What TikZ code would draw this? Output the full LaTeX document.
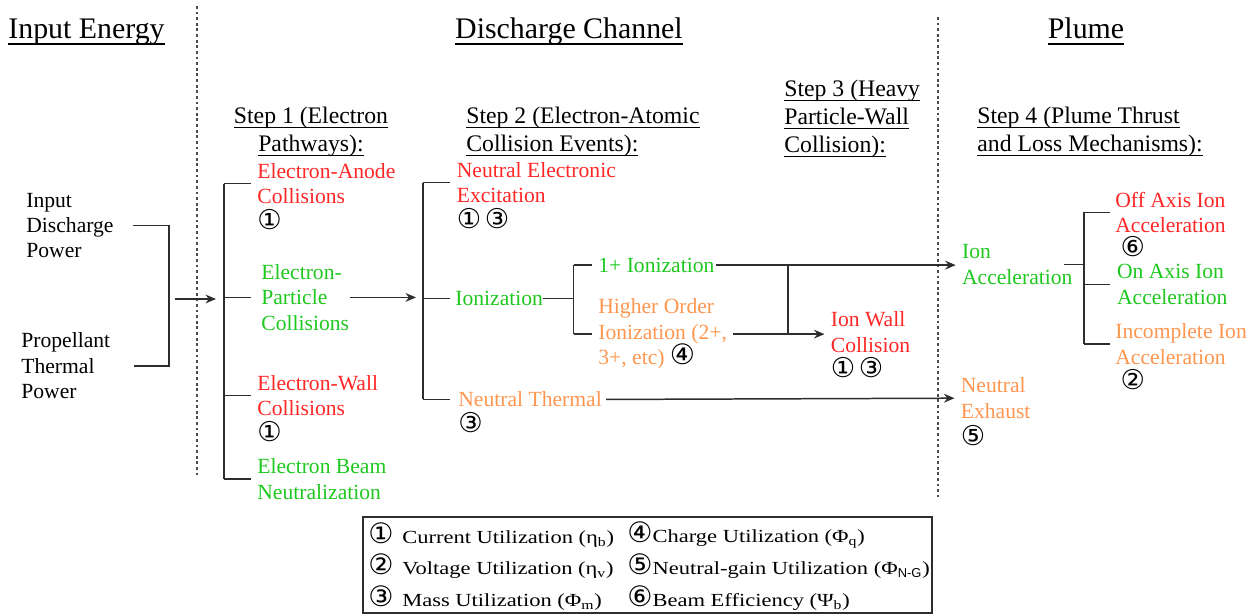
\documentclass[tikz,border=0pt]{standalone}
\usepackage{fontspec}
\setmainfont{Liberation Serif}
\newfontfamily\circfont{DejaVu Sans}
\newfontfamily\legsans{Liberation Sans}
\usepackage{tikz}
\usetikzlibrary{arrows.meta,positioning,calc}

\definecolor{lossred}{RGB}{255,38,38}
\definecolor{gaingreen}{RGB}{30,200,30}
\definecolor{partorange}{RGB}{255,150,80}
\definecolor{linegray}{RGB}{45,45,45}

\newcommand{\cnum}[1]{{\circfont\fontsize{16}{14}\selectfont\color{black}#1}}
\newcommand{\lnum}[1]{{\circfont\fontsize{16}{14}\selectfont #1}}
% underline with a heavier rule
\newcommand{\hdul}[1]{\setbox0\hbox{#1}\leavevmode\rlap{\rule[-2.6pt]{\wd0}{0.8pt}}\box0}
\newcommand{\ttul}[1]{\setbox0\hbox{#1}\leavevmode\rlap{\rule[-3.2pt]{\wd0}{1.1pt}}\box0}

\tikzset{
  every node/.style={inner sep=0pt},
  titletext/.style={font=\fontsize{17}{20}\selectfont,anchor=base},
  steptext/.style={font=\fontsize{13.5}{15.9}\selectfont,align=left,anchor=north west},
  bodytext/.style={font=\fontsize{12.3}{14.5}\selectfont,align=left,anchor=north west},
  losstext/.style={bodytext,text=lossred},
  gaintext/.style={bodytext,text=gaingreen},
  parttext/.style={bodytext,text=partorange},
  blacktext/.style={bodytext,text=black},
  numnode/.style={font=\circfont\fontsize{15.5}{15.5}\selectfont,anchor=north west},
  link/.style={draw=linegray,line width=0.85pt},
  flow/.style={link,-{Stealth[length=6pt,width=5pt]}},
  divider/.style={draw=black!70,line width=0.9pt,dash pattern=on 1.6pt off 1.6pt},
  legtext/.style={font=\fontsize{10.5}{12}\selectfont\addfontfeature{FakeStretch=1.22},anchor=west}
}

\begin{document}
\begin{tikzpicture}[x=0.02cm,y=-0.02cm]
  \useasboundingbox (0,0) rectangle (1256,615);
  % Section titles
  \node[titletext] (tinput) at (86.5,39) {\ttul{Input Energy}};
  \node[titletext] (tchannel) at (569,39) {\ttul{Discharge Channel}};
  \node[titletext] (tplume) at (1086,39) {\ttul{Plume}};
  % Dividers
  \coordinate (divA top) at (197,6);
  \coordinate (divA bot) at (197,478);
  \coordinate (divB top) at (938,17);
  \coordinate (divB bot) at (938,497);
  \draw[divider] (divA top) -- (divA bot);
  \draw[divider] (divB top) -- (divB bot);

  % Input energy
  \node[blacktext] (discharge) at (26,192.5) {Input\\Discharge\\Power};
  \node[blacktext] (thermal) at (21,332.5) {Propellant\\Thermal\\Power};
  \coordinate (inJoin) at (169,299);
  \draw[link] ($(discharge.east)+(19,0)$) -| (inJoin) |- ($(thermal.east)+(23,0)$);

  % Step 1
  \node[steptext,align=center,anchor=north] (step1) at (311,107) {\hdul{Step 1 (Electron}\\\hdul{Pathways):}};
  \node[losstext] (anode) at (257,163) {Electron-Anode\\Collisions};
  \node[numnode] (anodeN) at ([yshift=-2.6pt]anode.south west) {①};
  \node[gaintext] (particle) at (261,264) {Electron-\\Particle\\Collisions};
  \node[losstext] (ewall) at (257,375) {Electron-Wall\\Collisions};
  \node[numnode] (ewallN) at ([yshift=-2.6pt]ewall.south west) {①};
  \node[gaintext] (beam) at (257,458.5) {Electron Beam\\Neutralization};
  \coordinate (s1 spine) at (224,0);
  \coordinate (s1 tick) at (251,0);
  \draw[flow] ($(inJoin)+(6,0)$) -- ($(s1 spine |- inJoin)+(-8,0)$);
  \draw[link] (s1 spine |- anode.west) -- (s1 spine |- beam.west);
  \foreach \n in {anode,particle,ewall,beam}
    \draw[link] (s1 spine |- \n.west) -- (s1 tick |- \n.west);

  % Step 2
  \node[steptext] (step2) at (466,107) {\hdul{Step 2 (Electron-Atomic}\\\hdul{Collision Events):}};
  \node[losstext] (excite) at (456.5,162) {Neutral Electronic\\Excitation};
  \node[numnode] (exciteN) at ([yshift=-2.6pt]excite.south west) {①\hspace{2pt}③};
  \node[gaintext] (ionize) at (455,291) {Ionization};
  \node[parttext] (nthermal) at (458,391.5) {Neutral Thermal};
  \node[numnode] (nthermalN) at ([yshift=-2.6pt]nthermal.south west) {③};
  \coordinate (s2 spine) at (423,0);
  \coordinate (s2 tick) at (450,0);
  \draw[flow] ($(particle.east)+(1,0)$) -- ($(s2 spine |- particle.east)+(-7,0)$);
  \draw[link] (s2 spine |- excite.west) -- (s2 spine |- nthermal.west);
  \foreach \n in {excite,ionize,nthermal}
    \draw[link] (s2 spine |- \n.west) -- (s2 tick |- \n.west);

  % Ionization branches
  \node[gaintext] (single) at (598,257.5) {1+ Ionization};
  \node[parttext] (multi) at (598,298.5) {Higher Order\\Ionization (2+,\\3+, etc) \cnum{④}};
  \coordinate (ion spine) at (573.7,0);
  \coordinate (ion tick) at (592,0);
  \draw[link] (ionize.east) -- (ion spine |- ionize.east);
  \draw[link] (ion spine |- single.west) -- (ion spine |- multi.west);
  \draw[link] (ion spine |- single.west) -- (ion tick |- single.west);
  \draw[link] (ion spine |- multi.west) -- (ion tick |- multi.west);

  % Step 3
  \node[steptext] (step3) at (784,80) {\hdul{Step 3 (Heavy}\\\hdul{Particle-Wall}\\\hdul{Collision):}};
  \node[losstext] (ionwall) at (830.5,311.5) {Ion Wall\\Collision};
  \node[numnode] (ionwallN) at ([yshift=-2.6pt]ionwall.south west) {①\hspace{2pt}③};

  % Step 4 / plume
  \node[steptext] (step4) at (977,107) {\hdul{Step 4 (Plume Thrust}\\\hdul{and Loss Mechanisms):}};
  \node[gaintext] (ionacc) at (961.7,244.2) {Ion\\Acceleration};
  \node[parttext] (nexhaust) at (960.5,377.5) {Neutral\\Exhaust};
  \node[numnode] (nexhaustN) at ([yshift=-3.4pt]nexhaust.south west) {⑤};
  \node[losstext] (offaxis) at (1115,191.5) {Off Axis Ion\\Acceleration};
  \node[numnode] (offaxisN) at ([xshift=3pt,yshift=-1.6pt]offaxis.south west) {⑥};
  \node[gaintext] (onaxis) at (1116.7,264.2) {On Axis Ion\\Acceleration};
  \node[parttext] (incomplete) at (1115,323.5) {Incomplete Ion\\Acceleration};
  \node[numnode] (incompleteN) at ([xshift=3pt,yshift=-2.6pt]incomplete.south west) {②};
  \coordinate (plume spine) at (1084,0);
  \coordinate (plume tick) at (1110,0);
  \draw[link] ($(ionacc.east)+(-9,0)$) -- (plume spine |- ionacc.east);
  \draw[link] (plume spine |- offaxis.west) -- (plume spine |- incomplete.west);
  \foreach \n in {offaxis,onaxis,incomplete}
    \draw[link] (plume spine |- \n.west) -- (plume tick |- \n.west);

  % Flows across the channel
  \coordinate (wall join) at (788,0);
  \draw[flow] ($(single.east)+(1,0)$) -- ($(single.east -| ionacc.west)+(-6,0)$);
  \draw[link] (wall join |- single.east) -- (wall join |- multi.east);
  \draw[flow] ($(multi.east)+(6,0)$) -- ($(multi.east -| ionwall.west)+(-6,0)$);
  \draw[flow] ($(nthermal.east)+(4,0)$) -- ($(nexhaust.west)+(-6,0)$);

  % Legend
  \coordinate (leg nw) at (363,517);
  \coordinate (leg se) at (932,613);
  \draw[linegray,line width=0.8pt] (leg nw) rectangle (leg se);
  \node[legtext] (leg1) at (368,535) {\lnum{①}\hspace{5pt}Current Utilization (η\textsubscript{b})};
  \node[legtext] (leg2) at (368,566) {\lnum{②}\hspace{5pt}Voltage Utilization (η\textsubscript{v})};
  \node[legtext] (leg3) at (368,598) {\lnum{③}\hspace{5pt}Mass Utilization (Φ\textsubscript{m})};
  \node[legtext] (leg4) at (627,535) {\lnum{④}\hspace{0pt}Charge Utilization (Φ\textsubscript{q})};
  \node[legtext] (leg5) at (627,566) {\lnum{⑤}\hspace{0pt}Neutral-gain Utilization (Φ\textsubscript{\legsans N-G})};
  \node[legtext] (leg6) at (627,598) {\lnum{⑥}\hspace{0pt}Beam Efficiency (Ψ\textsubscript{b})};
\end{tikzpicture}
\end{document}
